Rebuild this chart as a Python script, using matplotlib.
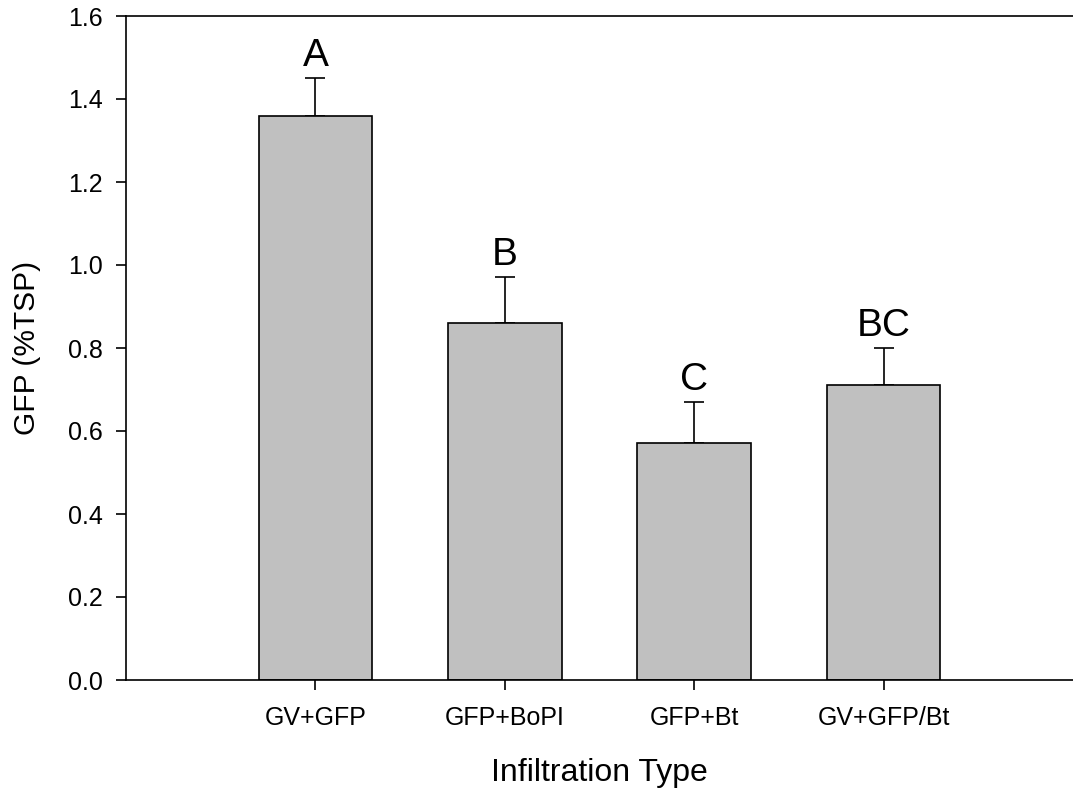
import matplotlib
matplotlib.use("Agg")
import matplotlib.pyplot as plt
import numpy as np

plt.rcParams['font.family'] = ['Liberation Sans', 'DejaVu Sans']

# GFP expression by infiltration type
groups = ['GV+GFP', 'GFP+BoPI', 'GFP+Bt', 'GV+GFP/Bt']
means = [1.36, 0.86, 0.57, 0.71]
errs = [0.09, 0.11, 0.10, 0.09]
letters = ['A', 'B', 'C', 'BC']

fig = plt.figure(figsize=(10.73, 7.93), dpi=100)
ax = fig.add_axes([126/1073, 113/793, 947/1073, 664/793])

x = np.arange(len(groups))
ax.bar(x, means, width=0.6, color='#c0c0c0', edgecolor='black', linewidth=1.2, zorder=2)
ax.errorbar(x, means, yerr=[np.zeros(len(errs)), errs], fmt='none',
            ecolor='black', elinewidth=1.2, capsize=7.5, capthick=1.2, zorder=1)

for xi, m, e, lab in zip(x, means, errs, letters):
    ax.text(xi, m + e + 0.01, lab, ha='center', va='bottom', fontsize=28)

ax.set_xlim(-1, 4)
ax.set_ylim(0, 1.6)
ax.set_yticks(np.arange(0, 1.61, 0.2))
ax.set_yticklabels([f'{v:.1f}' for v in np.arange(0, 1.61, 0.2)])
ax.set_xticks(x)
ax.set_xticklabels(groups)

ax.spines['right'].set_visible(False)
for s in ['top', 'left', 'bottom']:
    ax.spines[s].set_linewidth(1.2)

ax.tick_params(axis='both', direction='out', length=7, width=1.2, labelsize=18)
ax.tick_params(axis='y', pad=10)
ax.tick_params(axis='x', pad=12)

ax.set_xlabel('Infiltration Type', fontsize=23, labelpad=20)
ax.set_ylabel('GFP (%TSP)', fontsize=21.5, labelpad=19)

fig.savefig('out.png', dpi=100)
